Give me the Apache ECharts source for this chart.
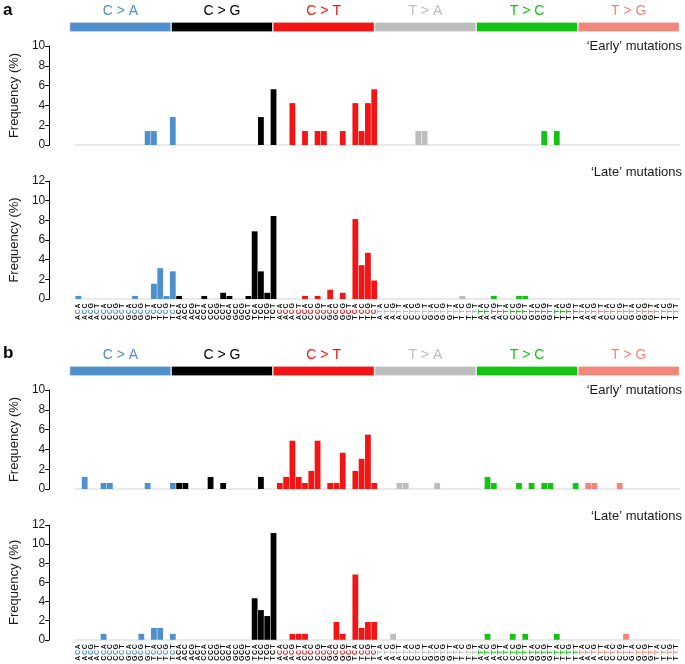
<!DOCTYPE html>
<html>
<head>
<meta charset="utf-8">
<script src="https://cdn.jsdelivr.net/npm/echarts@6/dist/echarts.min.js"></script>
<style>
html,body{margin:0;padding:0;background:#fff;}
#chart{width:685px;height:664px;}
</style>
</head>
<body>
<div id="chart"></div>
<script>
// Mutation types and their colours
const types = ['C > A', 'C > G', 'C > T', 'T > A', 'T > C', 'T > G'];
const typeColors = ['#4f8fcc', '#000000', '#f41414', '#bdbdbd', '#14c314', '#f3867a'];

// Trinucleotide contexts (16 per type)
const contextsC = ['ACA','ACC','ACG','ACT','CCA','CCC','CCG','CCT','GCA','GCC','GCG','GCT','TCA','TCC','TCG','TCT'];
const contextsT = ['ATA','ATC','ATG','ATT','CTA','CTC','CTG','CTT','GTA','GTC','GTG','GTT','TTA','TTC','TTG','TTT'];
const categories = [].concat(contextsC, contextsC, contextsC, contextsT, contextsT, contextsT);

// Panel a, 'Early' mutations (%), 16 values per type in order C>A, C>G, C>T, T>A, T>C, T>G
const earlyA = [
  0,0,0,0,0,0,0,0,0,0,0,1.41,1.41,0,0,2.82,
  0,0,0,0,0,0,0,0,0,0,0,0,0,2.82,0,5.63,
  0,0,4.23,0,1.41,0,1.41,1.41,0,0,1.41,0,4.23,1.41,4.23,5.63,
  0,0,0,0,0,0,1.41,1.41,0,0,0,0,0,0,0,0,
  0,0,0,0,0,0,0,0,0,0,1.41,0,1.41,0,0,0,
  0,0,0,0,0,0,0,0,0,0,0,0,0,0,0,0
];
// Panel a, 'Late' mutations (%)
const lateA = [
  0.31,0,0,0,0,0,0,0,0,0.31,0,0,1.56,3.13,0.31,2.81,
  0.31,0,0,0,0.31,0,0,0.63,0.31,0,0,0.31,6.88,2.81,0.63,8.44,
  0,0,0,0,0.31,0,0.31,0,0.94,0,0.63,0,8.13,3.44,4.69,1.88,
  0,0,0,0,0,0,0,0,0,0,0,0,0,0.31,0,0,
  0,0,0.31,0,0,0,0.31,0.31,0,0,0,0,0,0,0,0,
  0,0,0,0,0,0,0,0,0,0,0,0,0,0,0,0
];
// Panel b, 'Early' mutations (%)
const earlyB = [
  0,1.22,0,0,0.61,0.61,0,0,0,0,0,0.61,0,0,0,0.61,
  0.61,0.61,0,0,0,1.22,0,0.61,0,0,0,0,0,1.22,0,0,
  0.61,1.22,4.88,1.22,0.61,1.83,4.88,0,0.61,0.61,3.66,0,1.83,3.05,5.49,0.61,
  0,0,0,0.61,0.61,0,0,0,0,0.61,0,0,0,0,0,0,
  0,1.22,0.61,0,0,0,0.61,0,0.61,0,0.61,0.61,0,0,0,0.61,
  0,0.61,0.61,0,0,0,0.61,0,0,0,0,0,0,0,0,0
];
// Panel b, 'Late' mutations (%)
const lateB = [
  0,0,0,0,0.62,0,0,0,0,0,0.62,0,1.24,1.24,0,0.62,
  0,0,0,0,0,0,0,0,0,0,0,0,4.34,3.1,2.48,11.16,
  0,0,0.62,0.62,0.62,0,0,0,0,1.86,0.62,0,6.82,1.24,1.86,1.86,
  0,0,0.62,0,0,0,0,0,0,0,0,0,0,0,0,0,
  0,0.62,0,0,0,0.62,0,0.62,0,0,0,0,0.62,0,0,0,
  0,0,0,0,0,0,0,0.62,0,0,0,0,0,0,0,0
];
const earlyTicks = [0, 2, 4, 6, 8, 10];
const lateTicks = [0, 2, 4, 6, 8, 10, 12];

const FONT = "'Liberation Sans', Arial, Helvetica, sans-serif";
const chart = echarts.init(document.getElementById('chart'), null, {renderer: 'canvas'});

const L = 69.5, W = 610;
const grids = [
  {left: L, width: W, top: 22, height: 10},   // 0 header a
  {left: L, width: W, top: 46, height: 99},   // 1 early a
  {left: L, width: W, top: 181, height: 118}, // 2 late a
  {left: L, width: W, top: 366, height: 10},  // 3 header b
  {left: L, width: W, top: 390, height: 99},  // 4 early b
  {left: L, width: W, top: 525, height: 118}  // 5 late b
];

const rich = {o: {fontSize: 7, fontWeight: 'bold', color: '#111', fontFamily: FONT, width: 5.8, align: 'center'}};
typeColors.forEach((c, i) => {
  rich['m' + i] = {fontSize: 7, fontWeight: 'bold', color: c, fontFamily: FONT, width: 5.8, align: 'center'};
});

function labelFmt(v, idx) {
  const t = Math.floor(idx / 16);
  return '{o|' + v[0] + '}{m' + t + '|' + v[1] + '}{o|' + v[2] + '}';
}

const xAxes = [], yAxes = [], series = [];
grids.forEach((g, gi) => {
  const isHeader = (gi === 0 || gi === 3);
  const isLate = (gi === 2 || gi === 5);
  if (isHeader) {
    xAxes.push({gridIndex: gi, type: 'category', data: types, show: false});
    yAxes.push({gridIndex: gi, type: 'value', min: 0, max: 1, show: false});
    series.push({
      type: 'bar', xAxisIndex: gi, yAxisIndex: gi, barCategoryGap: 0, silent: true,
      data: types.map((t, i) => ({
        value: 1,
        itemStyle: {color: typeColors[i], borderColor: '#ffffff', borderWidth: 0.6},
        label: {color: typeColors[i]}
      })),
      label: {show: true, position: 'top', distance: 4, formatter: '{b}', fontSize: 14, fontFamily: FONT}
    });
  } else {
    const ticks = isLate ? lateTicks : earlyTicks;
    xAxes.push({
      gridIndex: gi, type: 'category', data: categories,
      axisLine: {show: true, lineStyle: {color: '#e4e4e4', width: 1.5}},
      axisTick: {show: false},
      axisLabel: isLate ? {show: true, interval: 0, rotate: 90, margin: 4, formatter: labelFmt, rich: rich} : {show: false}
    });
    yAxes.push({
      gridIndex: gi, type: 'value', min: ticks[0], max: ticks[ticks.length - 1], interval: 2,
      offset: 26,
      axisLine: {show: true, lineStyle: {color: '#000', width: 1}},
      axisTick: {show: true, length: 4, lineStyle: {color: '#000', width: 1}},
      axisLabel: {fontSize: 12, color: '#1a1a1a', margin: 4, fontFamily: FONT},
      splitLine: {show: false},
      name: 'Frequency (%)', nameLocation: 'middle', nameGap: 25,
      nameTextStyle: {fontSize: 13, color: '#1a1a1a', fontFamily: FONT}
    });
    const data = [earlyA, lateA, null, earlyB, lateB][gi - 1];
    series.push({
      type: 'bar', xAxisIndex: gi, yAxisIndex: gi, barCategoryGap: '8%', silent: true,
      data: data,
      itemStyle: {color: p => typeColors[Math.floor(p.dataIndex / 16)]}
    });
  }
});

const titleStyle = {fontSize: 13, fontWeight: 'normal', color: '#1a1a1a', fontFamily: FONT};
const panelStyle = {fontSize: 17, fontWeight: 'bold', color: '#000', fontFamily: FONT};
chart.setOption({
  animation: false,
  backgroundColor: '#ffffff',
  title: [
    {text: 'a', left: 3, top: 2, textStyle: panelStyle, padding: 0},
    {text: 'b', left: 3, top: 345, textStyle: panelStyle, padding: 0},
    {text: '\u2018Early\u2019 mutations', right: 3, top: 40, textStyle: titleStyle, padding: 0},
    {text: '\u2018Late\u2019 mutations', right: 3, top: 166, textStyle: titleStyle, padding: 0},
    {text: '\u2018Early\u2019 mutations', right: 3, top: 384, textStyle: titleStyle, padding: 0},
    {text: '\u2018Late\u2019 mutations', right: 3, top: 510, textStyle: titleStyle, padding: 0}
  ],
  grid: grids,
  xAxis: xAxes,
  yAxis: yAxes,
  series: series
});
</script>
</body>
</html>
